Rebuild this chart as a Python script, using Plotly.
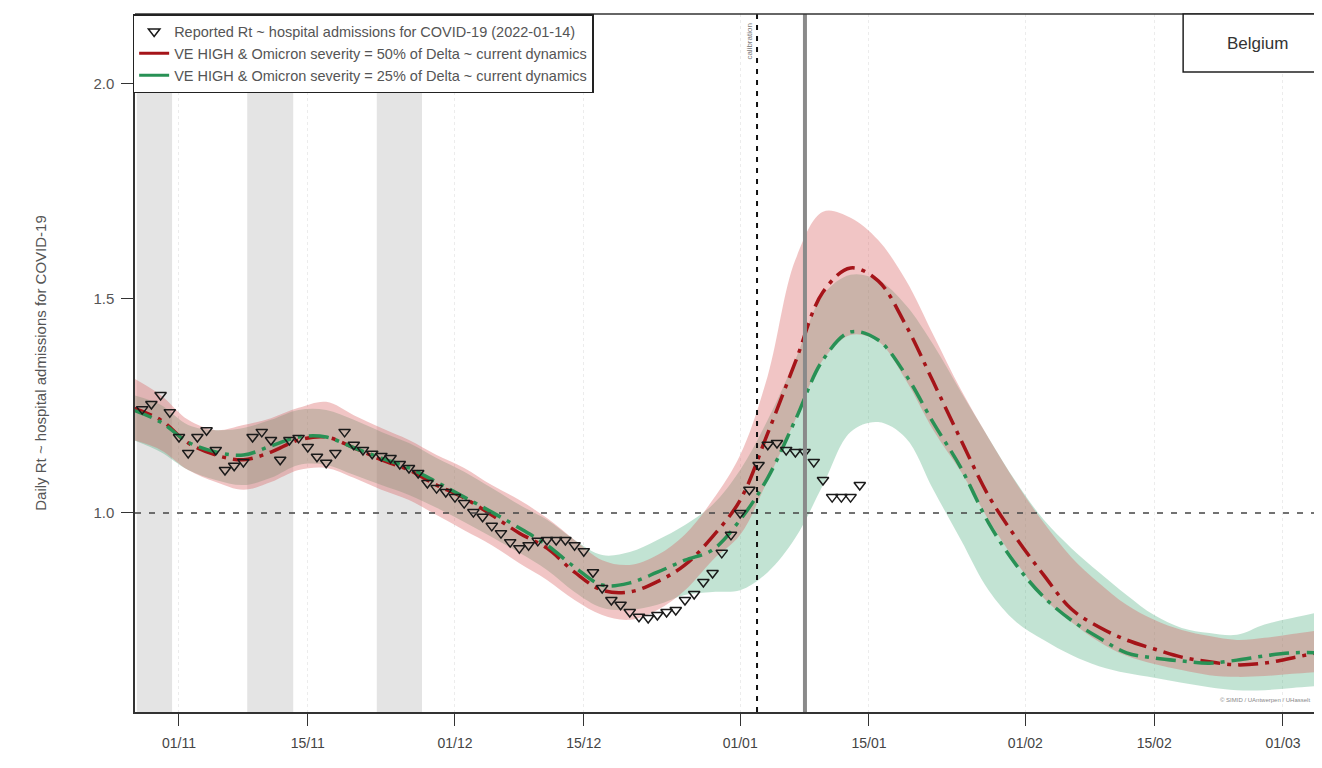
import pandas as pd
import plotly.graph_objects as go

# ---------------- data ----------------
# reported Rt (daily, 2021-10-28 .. 2022-01-14)
reported_start = "2021-10-28"
reported_end = "2022-01-14"
reported_rt = [
    1.242, 1.254, 1.275, 1.235, 1.177, 1.140, 1.177, 1.193, 1.147, 1.100,
    1.110, 1.119, 1.177, 1.189, 1.170, 1.124, 1.170, 1.175, 1.154, 1.131,
    1.117, 1.140, 1.189, 1.159, 1.147, 1.138, 1.133, 1.128, 1.114, 1.105,
    1.093, 1.070, 1.058, 1.049, 1.037, 1.023, 1.002, 0.991, 0.970, 0.953,
    0.932, 0.918, 0.925, 0.935, 0.937, 0.937, 0.937, 0.925, 0.911, 0.862,
    0.825, 0.797, 0.786, 0.769, 0.758, 0.755, 0.762, 0.769, 0.774, 0.797,
    0.811, 0.839, 0.860, 0.907, 0.949, 1.000, 1.054, 1.112, 1.159, 1.163,
    1.147, 1.142, 1.142, 1.119, 1.077, 1.037, 1.037, 1.037, 1.065,
]

# scenario projections (every 3 days, 2021-10-27 .. 2022-03-05)
model_start = "2021-10-27"
model_step_days = 3
red_mid = [1.245, 1.217, 1.163, 1.135, 1.124, 1.142, 1.170, 1.177, 1.152, 1.124,
           1.100, 1.065, 1.035, 0.995, 0.953, 0.918, 0.862, 0.820, 0.816, 0.840,
           0.879, 0.945, 1.030, 1.186, 1.352, 1.515, 1.571, 1.541, 1.438, 1.305,
           1.170, 1.040, 0.942, 0.855, 0.776, 0.734, 0.704, 0.683, 0.664, 0.653,
           0.646, 0.650, 0.662, 0.676]
red_hi = [1.315, 1.275, 1.217, 1.193, 1.205, 1.221, 1.245, 1.259, 1.228, 1.198,
          1.170, 1.135, 1.105, 1.065, 1.030, 0.988, 0.937, 0.890, 0.879, 0.902,
          0.950, 1.030, 1.135, 1.320, 1.590, 1.702, 1.688, 1.636, 1.543, 1.415,
          1.287, 1.175, 1.070, 0.977, 0.897, 0.837, 0.786, 0.751, 0.727, 0.713,
          0.704, 0.709, 0.718, 0.727]
red_lo = [1.170, 1.147, 1.100, 1.072, 1.054, 1.072, 1.100, 1.105, 1.082, 1.054,
          1.030, 0.995, 0.960, 0.925, 0.883, 0.844, 0.797, 0.762, 0.751, 0.774,
          0.820, 0.890, 0.949, 1.077, 1.217, 1.357, 1.415, 1.400, 1.310, 1.193,
          1.096, 0.984, 0.886, 0.802, 0.746, 0.700, 0.667, 0.648, 0.634, 0.622,
          0.618, 0.620, 0.625, 0.630]
green_mid = [1.240, 1.212, 1.165, 1.142, 1.135, 1.156, 1.177, 1.177, 1.152, 1.128,
             1.105, 1.072, 1.037, 1.002, 0.965, 0.925, 0.874, 0.832, 0.837, 0.862,
             0.890, 0.914, 0.984, 1.082, 1.217, 1.357, 1.422, 1.403, 1.322, 1.210,
             1.105, 0.977, 0.879, 0.804, 0.750, 0.709, 0.674, 0.662, 0.655, 0.650,
             0.657, 0.667, 0.674, 0.674]
green_hi = [1.275, 1.252, 1.205, 1.193, 1.198, 1.217, 1.240, 1.240, 1.217, 1.189,
            1.163, 1.128, 1.096, 1.058, 1.019, 0.984, 0.937, 0.902, 0.909, 0.937,
            0.972, 1.019, 1.100, 1.217, 1.357, 1.508, 1.555, 1.543, 1.485, 1.392,
            1.282, 1.175, 1.072, 0.984, 0.918, 0.862, 0.809, 0.762, 0.732, 0.720,
            0.716, 0.740, 0.755, 0.769]
green_lo = [1.170, 1.142, 1.100, 1.077, 1.065, 1.082, 1.112, 1.112, 1.089, 1.065,
            1.042, 1.012, 0.979, 0.944, 0.907, 0.867, 0.816, 0.779, 0.774, 0.786,
            0.809, 0.816, 0.820, 0.862, 0.942, 1.065, 1.189, 1.212, 1.175, 1.054,
            0.937, 0.820, 0.746, 0.704, 0.669, 0.643, 0.627, 0.616, 0.604, 0.594,
            0.587, 0.587, 0.592, 0.597]

# school holiday shading periods
holiday_starts = ["2021-10-27 10:00", "2021-11-08 10:00", "2021-11-22 12:00"]
holiday_ends = ["2021-10-31 06:00", "2021-11-13 10:00", "2021-11-27 10:00"]

calibration_date = "2022-01-02 20:00"
today_date = "2022-01-08 01:00"

tick_dates = ["2021-11-01", "2021-11-15", "2021-12-01", "2021-12-15", "2022-01-01",
              "2022-01-15", "2022-02-01", "2022-02-15", "2022-03-01"]
tick_labels = ["01/11", "15/11", "01/12", "15/12", "01/01", "15/01", "01/02", "15/02", "01/03"]
y_ticks = [1.0, 1.5, 2.0]
y_ticklabels = ["1.0", "1.5", "2.0"]

names = ["Reported Rt ~ hospital admissions for COVID-19 (2022-01-14)",
         "VE HIGH & Omicron severity = 50% of Delta ~ current dynamics",
         "VE HIGH & Omicron severity = 25% of Delta ~ current dynamics"]

# ---------------- figure ----------------
rep_dates = pd.date_range(reported_start, reported_end, freq="D")
mod_dates = pd.date_range(model_start, periods=len(red_mid), freq=f"{model_step_days}D")

RED = "rgb(165,20,25)"
GREEN = "rgb(40,145,85)"
FONT = "Liberation Sans, Arial, sans-serif"

fig = go.Figure()

# bands: green first, red on top
for lo, hi, fc in [(green_lo, green_hi, "rgba(70,170,120,0.33)"),
                   (red_lo, red_hi, "rgba(215,95,95,0.36)")]:
    fig.add_trace(go.Scatter(x=mod_dates, y=lo, mode="lines", line=dict(width=0, shape="spline"),
                             showlegend=False, hoverinfo="skip"))
    fig.add_trace(go.Scatter(x=mod_dates, y=hi, mode="lines", line=dict(width=0, shape="spline"),
                             fill="tonexty", fillcolor=fc, showlegend=False, hoverinfo="skip"))

DASH = "20px,7px,4px,7px"
fig.add_trace(go.Scatter(x=mod_dates, y=red_mid, mode="lines",
                         line=dict(color=RED, width=3.5, dash=DASH, shape="spline"),
                         showlegend=False))
fig.add_trace(go.Scatter(x=mod_dates, y=green_mid, mode="lines",
                         line=dict(color=GREEN, width=3.5, dash=DASH, shape="spline"),
                         showlegend=False))

fig.add_trace(go.Scatter(x=rep_dates, y=reported_rt, mode="markers", name=names[0],
                         marker=dict(symbol="triangle-down-open", size=10, color="#1a1a1a",
                                     line=dict(width=1.5, color="#1a1a1a"))))
# legend entries (solid lines)
fig.add_trace(go.Scatter(x=[None], y=[None], mode="lines", name=names[1],
                         line=dict(color=RED, width=3)))
fig.add_trace(go.Scatter(x=[None], y=[None], mode="lines", name=names[2],
                         line=dict(color=GREEN, width=3)))

# shading
for s, e in zip(holiday_starts, holiday_ends):
    fig.add_vrect(x0=s, x1=e, fillcolor="#e4e4e4", line_width=0, layer="below")

# reference lines
fig.add_shape(type="line", xref="paper", yref="y", x0=0, x1=1, y0=1.0, y1=1.0,
              line=dict(color="#444", width=1.6, dash="6px,8px"))
fig.add_shape(type="line", xref="x", yref="paper", x0=calibration_date, x1=calibration_date,
              y0=0, y1=1, line=dict(color="#111", width=2, dash="5px,6px"))
fig.add_shape(type="line", xref="x", yref="paper", x0=today_date, x1=today_date,
              y0=0, y1=1, line=dict(color="#8a8a8a", width=4))
# top frame line
fig.add_shape(type="line", xref="paper", yref="paper", x0=0, x1=1, y0=1, y1=1,
              line=dict(color="#333", width=1.5))
# Belgium box
fig.add_shape(type="rect", xref="paper", yref="paper", x0=0.889, x1=1.03, y0=0.917, y1=1.0,
              line=dict(color="#222", width=1.5), fillcolor="white")
fig.add_annotation(xref="paper", yref="paper", x=0.952, y=0.958, xanchor="center",
                   yanchor="middle", text="Belgium",
                   showarrow=False, font=dict(family=FONT, size=17, color="#333"))
fig.add_annotation(xref="x", yref="paper", x="2022-01-02 00:00", y=0.961, xanchor="center",
                   yanchor="middle", text="calibration",
                   textangle=-90, showarrow=False, font=dict(family=FONT, size=8, color="#777"))
fig.add_annotation(xref="paper", yref="paper", x=0.998, y=0.01, xanchor="right", yanchor="bottom",
                   text="© SIMID / UAntwerpen / UHasselt", showarrow=False,
                   font=dict(family=FONT, size=6, color="#888"))

# the page body adds an 8px offset, so margins compensate for it
fig.update_layout(
    width=1306, height=752,
    margin=dict(l=127, r=0, t=6, b=48, autoexpand=False),
    plot_bgcolor="white", paper_bgcolor="white",
    font=dict(family=FONT, color="#444"),
    legend=dict(x=-0.002, y=1, xanchor="left", yanchor="top", bgcolor="white",
                bordercolor="#222", borderwidth=1.5, traceorder="normal",
                font=dict(family=FONT, size=14.5, color="#555"),
                tracegroupgap=0, itemwidth=30),
    showlegend=True,
)
fig.update_xaxes(type="date", range=["2021-10-27 05:15", "2022-03-04 09:00"],
                 tickvals=tick_dates, ticktext=tick_labels, automargin=False,
                 showline=True, linecolor="#333", linewidth=1.5,
                 ticks="outside", ticklen=12, tickcolor="#333", tickwidth=1.3,
                 ticklabelstandoff=5,
                 tickfont=dict(family=FONT, size=14, color="#444"),
                 showgrid=True, gridcolor="#ececec", griddash="dot", gridwidth=1,
                 zeroline=False)
fig.update_yaxes(range=[0.5361, 2.163], tickvals=y_ticks, ticktext=y_ticklabels,
                 automargin=False,
                 showline=True, linecolor="#333", linewidth=1.5,
                 ticks="outside", ticklen=12, tickcolor="#333", tickwidth=1.3,
                 ticklabelstandoff=4,
                 tickfont=dict(family=FONT, size=15, color="#555"),
                 showgrid=False, zeroline=False,
                 title=dict(text="Daily Rt ~ hospital admissions for COVID-19",
                            font=dict(family=FONT, size=15, color="#555"), standoff=43))

fig.write_html("out.html")
